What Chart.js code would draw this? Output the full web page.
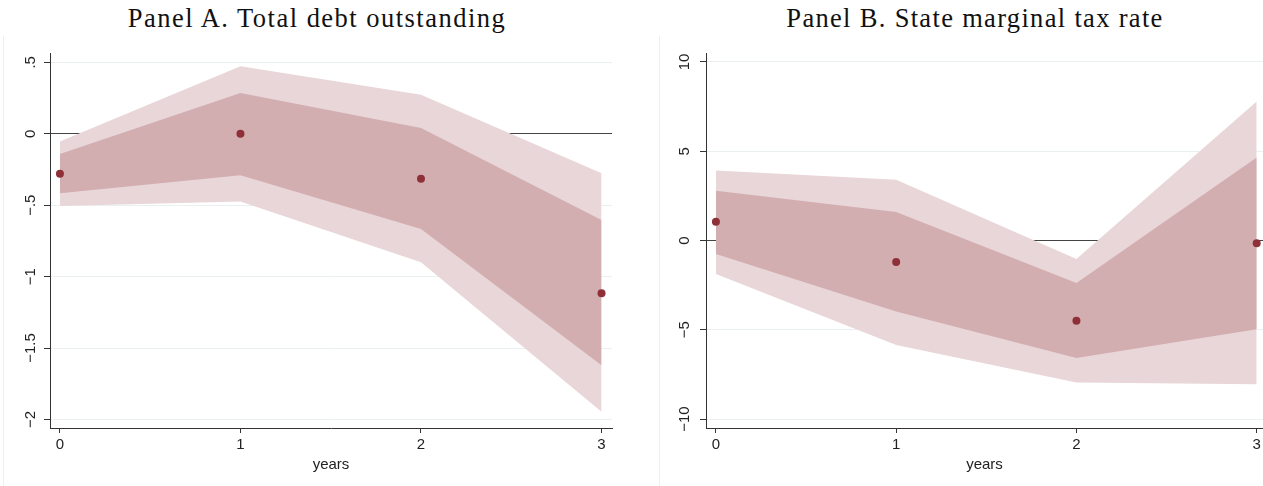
<!DOCTYPE html>
<html lang="en">
<head>
    <meta charset="UTF-8">
    <title>Panel A / Panel B</title>
    <script src="https://cdn.jsdelivr.net/npm/chart.js@4.4.1/dist/chart.umd.min.js"></script>
    <style>
        body { margin: 0; background: #fff; width: 1263px; height: 486px; overflow: hidden; position: relative; }
        canvas { position: absolute; top: 0; }
        .title { position: absolute; top: 5px; width: 560px; text-align: center; font-family: "Liberation Serif", serif; font-size: 26.5px; line-height: 26px; color: #111; white-space: nowrap; }
        .frame { position: absolute; top: 36px; width: 1px; height: 450px; background: #eef0f0; }
    </style>
</head>
<body>
    <div class="frame" style="left:3px"></div>
    <div class="frame" style="left:659px"></div>
    <div class="title" id="titleA" style="left:37px">Panel A. Total debt outstanding</div>
    <div class="title" id="titleB" style="left:695px">Panel B. State marginal tax rate</div>
    <canvas id="chartA" width="640" height="486" style="left:0"></canvas>
    <canvas id="chartB" width="660" height="486" style="left:640px"></canvas>

    <script>
        // values
        const years = [0, 1, 2, 3];

        const debtPoint   = [-0.28, 0.0, -0.315, -1.117];
        const debtInnerHi = [-0.142, 0.285, 0.04, -0.603];
        const debtInnerLo = [-0.416, -0.29, -0.666, -1.62];
        const debtOuterHi = [-0.054, 0.472, 0.273, -0.276];
        const debtOuterLo = [-0.505, -0.474, -0.90, -1.946];
        const debtTicks = [-2, -1.5, -1, -0.5, 0, 0.5];

        const taxPoint   = [1.05, -1.21, -4.5, -0.15];
        const taxInnerHi = [2.79, 1.59, -2.38, 4.65];
        const taxInnerLo = [-0.75, -3.98, -6.58, -4.97];
        const taxOuterHi = [3.92, 3.40, -1.04, 7.79];
        const taxOuterLo = [-1.87, -5.85, -7.95, -8.05];
        const taxTicks = [-10, -5, 0, 5, 10];

        const xTicks = [0, 1, 2, 3];

        const outerColor = '#e8d6d8';
        const innerColor = '#d3aeb1';
        const dotColor = '#8f3039';
        const axisColor = '#333333';
        const gridColor = '#eaf0f1';
        const tickFont = { family: '"Liberation Sans", Arial, sans-serif', size: 15 };

        function pts(ys) {
            return years.map((x, i) => ({ x: x, y: ys[i] }));
        }

        function stataLabel(v) {
            let s = String(v);
            s = s.replace(/^(-?)0\./, '$1.');
            return s.replace('-', '\u2212');
        }

        function band(ys, color, fill) {
            return {
                data: pts(ys),
                backgroundColor: color,
                borderWidth: 0,
                pointRadius: 0,
                tension: 0,
                fill: fill
            };
        }

        function makePanel(id, p, innerHi, innerLo, outerHi, outerLo, yTicks, yMin, yMax, xMax, yWidth, padRight, labelPad) {
            return new Chart(document.getElementById(id), {
                type: 'line',
                data: {
                    datasets: [
                        { data: pts(p), showLine: false, pointRadius: 4, pointHoverRadius: 4,
                          pointBackgroundColor: dotColor, pointBorderWidth: 0 },
                        band(innerHi, innerColor, '+1'),
                        band(innerLo, innerColor, false),
                        band(outerHi, outerColor, '+1'),
                        band(outerLo, outerColor, false)
                    ]
                },
                options: {
                    responsive: false,
                    animation: false,
                    devicePixelRatio: 1,
                    layout: { padding: { top: 53, right: padRight, left: 0, bottom: 0 } },
                    plugins: { legend: { display: false }, tooltip: { enabled: false } },
                    scales: {
                        x: {
                            type: 'linear',
                            min: -0.055,
                            max: xMax,
                            afterBuildTicks: s => { s.ticks = xTicks.map(v => ({ value: v })); },
                            afterFit: s => { s.height = 58; },
                            grid: { drawOnChartArea: false, tickLength: 5, tickColor: axisColor },
                            border: { display: true, color: axisColor, width: 1 },
                            ticks: { font: tickFont, color: '#222', padding: 3, maxRotation: 0 },
                            title: { display: true, text: 'years', font: tickFont, color: '#222',
                                     padding: { top: 0, bottom: 12 } }
                        },
                        y: {
                            min: yMin,
                            max: yMax,
                            afterBuildTicks: s => { s.ticks = yTicks.map(v => ({ value: v })); },
                            afterFit: s => { s.width = yWidth; },
                            grid: {
                                tickLength: 6,
                                tickColor: axisColor,
                                color: c => (c.tick && c.tick.value === 0) ? '#444444' : gridColor,
                                lineWidth: 1
                            },
                            border: { display: true, color: axisColor, width: 1 },
                            ticks: {
                                font: tickFont, color: '#222',
                                minRotation: 90, maxRotation: 90,
                                crossAlign: 'center', padding: labelPad,
                                callback: v => stataLabel(v)
                            }
                        }
                    }
                }
            });
        }

        makePanel('chartA', debtPoint, debtInnerHi, debtInnerLo, debtOuterHi, debtOuterLo,
                  debtTicks, -2.06, 0.5655, 3.058, 50, 28, -2);
        makePanel('chartB', taxPoint, taxInnerHi, taxInnerLo, taxOuterHi, taxOuterLo,
                  taxTicks, -10.5, 10.5, 3.035, 66, 37, 2);

        // stretch title spacing to the width of the original serif titles
        function fitTitle(id, target) {
            const el = document.getElementById(id);
            const span = document.createElement('span');
            span.textContent = el.textContent;
            el.textContent = '';
            el.appendChild(span);
            const w = span.getBoundingClientRect().width;
            const n = span.textContent.length - 1;
            span.style.letterSpacing = ((target - w) / n).toFixed(2) + 'px';
        }
        fitTitle('titleA', 377);
        fitTitle('titleB', 376);
    </script>
</body>
</html>
